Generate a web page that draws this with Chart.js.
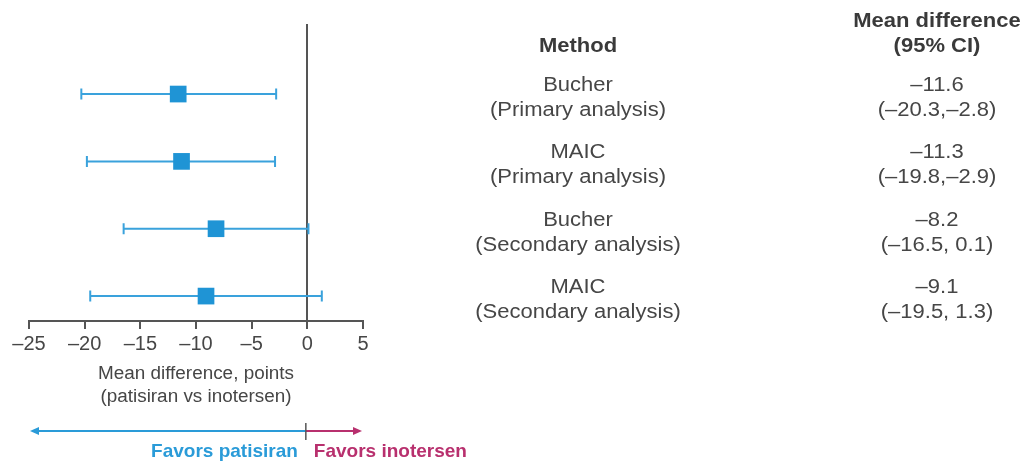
<!DOCTYPE html>
<html>
<head>
<meta charset="utf-8">
<script src="https://cdn.jsdelivr.net/npm/chart.js@4/dist/chart.umd.min.js"></script>
<style>
  html, body { margin: 0; padding: 0; background: #fff; }
  #wrap { width: 1032px; height: 464px; position: relative; }
</style>
</head>
<body>
<div id="wrap"><canvas id="myChart"></canvas></div>
<script>
const methods = ['Bucher', 'MAIC', 'Bucher', 'MAIC'];
const analyses = ['(Primary analysis)', '(Primary analysis)', '(Secondary analysis)', '(Secondary analysis)'];
const meanDiff = [-11.6, -11.3, -8.2, -9.1];
const ciLow = [-20.3, -19.8, -16.5, -19.5];
const ciHigh = [-2.8, -2.9, 0.1, 1.3];
const meanLabels = ['–11.6', '–11.3', '–8.2', '–9.1'];
const ciLabels = ['(–20.3,–2.8)', '(–19.8,–2.9)', '(–16.5, 0.1)', '(–19.5, 1.3)'];
const xTicks = [-25, -20, -15, -10, -5, 0, 5];

const blue = '#2a9bd8';
const pink = '#b8306e';
const textGray = '#464646';
const font = '"Liberation Sans", Arial, sans-serif';

function drawText(ctx, str, x, y, size, bold, color, align, sx) {
    ctx.save();
    ctx.font = (bold ? 'bold ' : '') + size + 'px ' + font;
    ctx.fillStyle = color;
    ctx.textAlign = align;
    ctx.textBaseline = 'alphabetic';
    ctx.translate(x, y);
    ctx.scale(sx, 1);
    ctx.fillText(str, 0, 0);
    ctx.restore();
}

// whiskers for the confidence intervals
const ciPlugin = {
    id: 'ciBars',
    beforeDatasetsDraw(chart) {
        const ctx = chart.ctx;
        const xs = chart.scales.x;
        const ys = chart.scales.y;
        ctx.save();
        ctx.strokeStyle = '#3aa2dc';
        ctx.lineWidth = 2;
        for (let i = 0; i < meanDiff.length; i++) {
            const y = ys.getPixelForValue(i + 1);
            const x1 = xs.getPixelForValue(ciLow[i]);
            const x2 = xs.getPixelForValue(ciHigh[i]);
            ctx.beginPath();
            ctx.moveTo(x1, y);
            ctx.lineTo(x2, y);
            ctx.moveTo(x1, y - 5.5);
            ctx.lineTo(x1, y + 5.5);
            ctx.moveTo(x2, y - 5.5);
            ctx.lineTo(x2, y + 5.5);
            ctx.stroke();
        }
        ctx.restore();
    }
};

// table on the right, axis title and favors arrows
const textPlugin = {
    id: 'extraText',
    afterDraw(chart) {
        const ctx = chart.ctx;
        const xs = chart.scales.x;
        const ys = chart.scales.y;
        const colA = 578;
        const colB = 937;

        drawText(ctx, 'Method', colA, 52, 20, true, '#3a3a3a', 'center', 1.1);
        drawText(ctx, 'Mean difference', colB, 27, 20, true, '#3a3a3a', 'center', 1.1);
        drawText(ctx, '(95% CI)', colB, 52, 20, true, '#3a3a3a', 'center', 1.1);

        for (let i = 0; i < methods.length; i++) {
            const y = ys.getPixelForValue(i + 1);
            drawText(ctx, methods[i], colA, y - 3, 20, false, textGray, 'center', 1.1);
            drawText(ctx, analyses[i], colA, y + 22, 20, false, textGray, 'center', 1.1);
            drawText(ctx, meanLabels[i], colB, y - 3, 20, false, textGray, 'center', 1.1);
            drawText(ctx, ciLabels[i], colB, y + 22, 20, false, textGray, 'center', 1.1);
        }

        const cx = (chart.chartArea.left + chart.chartArea.right) / 2;
        drawText(ctx, 'Mean difference, points', cx, 379, 18, false, textGray, 'center', 1.05);
        drawText(ctx, '(patisiran vs inotersen)', cx, 402, 18, false, textGray, 'center', 1.05);

        const left = xs.getPixelForValue(xTicks[0]) + 1;
        const right = xs.getPixelForValue(xTicks[xTicks.length - 1]) - 1;
        const mid = xs.getPixelForValue(0) - 1.5;
        const ay = 431;
        ctx.save();
        ctx.lineWidth = 2;
        ctx.strokeStyle = blue;
        ctx.beginPath();
        ctx.moveTo(left + 4, ay);
        ctx.lineTo(mid, ay);
        ctx.stroke();
        ctx.fillStyle = blue;
        ctx.beginPath();
        ctx.moveTo(left, ay);
        ctx.lineTo(left + 9, ay - 4);
        ctx.lineTo(left + 9, ay + 4);
        ctx.closePath();
        ctx.fill();

        ctx.strokeStyle = pink;
        ctx.beginPath();
        ctx.moveTo(mid, ay);
        ctx.lineTo(right - 4, ay);
        ctx.stroke();
        ctx.fillStyle = pink;
        ctx.beginPath();
        ctx.moveTo(right, ay);
        ctx.lineTo(right - 9, ay - 4);
        ctx.lineTo(right - 9, ay + 4);
        ctx.closePath();
        ctx.fill();

        ctx.strokeStyle = '#555';
        ctx.lineWidth = 1.5;
        ctx.beginPath();
        ctx.moveTo(mid, ay - 8);
        ctx.lineTo(mid, ay + 9);
        ctx.stroke();
        ctx.restore();

        drawText(ctx, 'Favors patisiran', mid - 8, 457, 19, true, blue, 'right', 1);
        drawText(ctx, 'Favors inotersen', mid + 8, 457, 19, true, pink, 'left', 1);
    }
};

const ctx = document.getElementById('myChart');

new Chart(ctx, {
    type: 'scatter',
    data: {
        datasets: [{
            label: 'Mean difference',
            data: meanDiff.map((v, i) => ({ x: v, y: i + 1 })),
            pointStyle: 'rect',
            pointRadius: 11.8,
            pointHoverRadius: 11.8,
            backgroundColor: '#1f94d5',
            borderWidth: 0
        }]
    },
    options: {
        responsive: true,
        maintainAspectRatio: false,
        animation: false,
        layout: {
            padding: { left: 29, right: 669, top: 24, bottom: 105 }
        },
        plugins: {
            legend: { display: false },
            tooltip: { enabled: false }
        },
        scales: {
            x: {
                type: 'linear',
                min: xTicks[0],
                max: xTicks[xTicks.length - 1],
                afterBuildTicks: (axis) => {
                    axis.ticks = xTicks.map(v => ({ value: v }));
                },
                grid: {
                    color: (c) => (c.tick && c.tick.value === 0) ? '#555' : 'rgba(0,0,0,0)',
                    tickColor: '#555',
                    lineWidth: 2,
                    tickLength: 8
                },
                border: { color: '#555', width: 2 },
                ticks: {
                    padding: 3,
                    color: textGray,
                    font: { family: font, size: 20 },
                    maxRotation: 0,
                    callback: (v) => String(v).replace('-', '–')
                }
            },
            y: {
                type: 'linear',
                display: false,
                reverse: true,
                min: -0.04,
                max: 4.37
            }
        }
    },
    plugins: [ciPlugin, textPlugin]
});
</script>
</body>
</html>
